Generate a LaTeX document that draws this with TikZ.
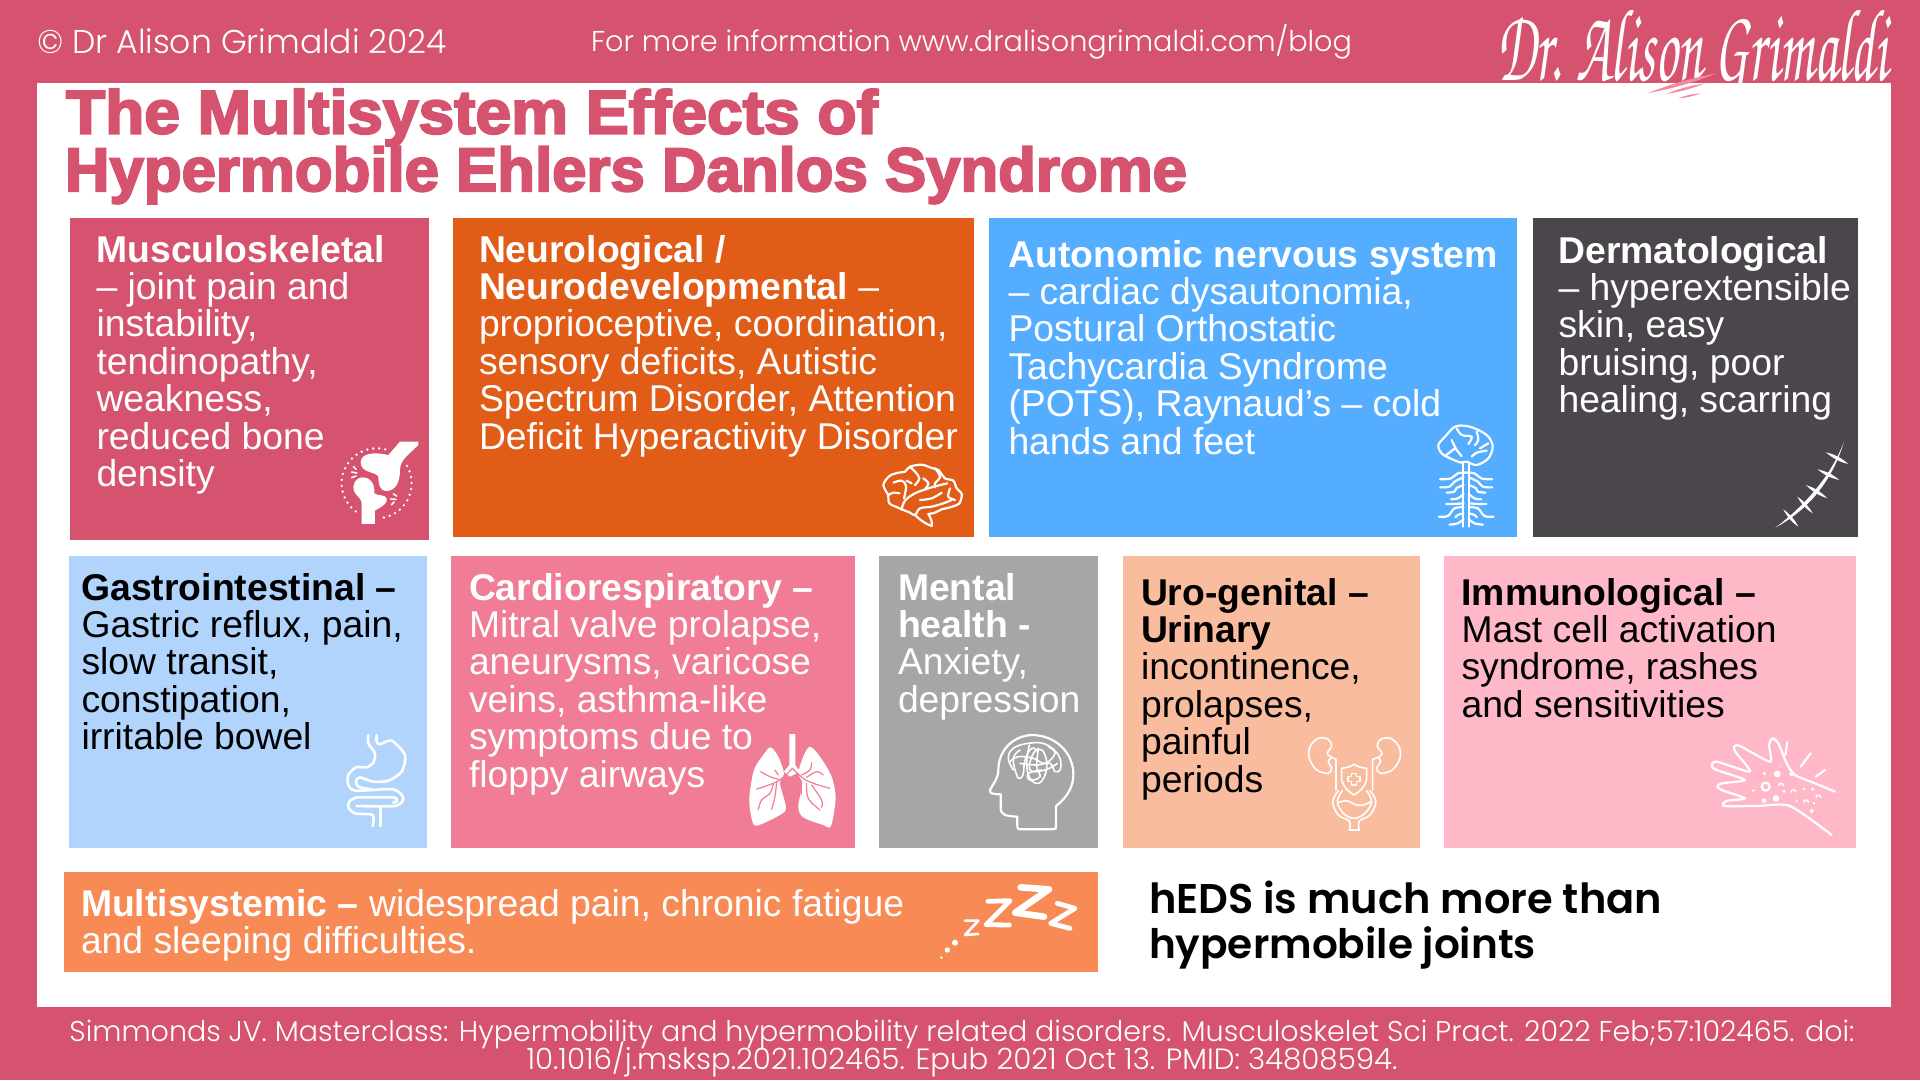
\documentclass[tikz,border=0pt]{standalone}
\usepackage{fontspec}
\usepackage{graphicx}
\setmainfont{Liberation Sans}
\newfontfamily\poplight{Poppins Light}
\newfontfamily\popreg{Poppins}
\newfontfamily\popsemi{Poppins SemiBold}
\newfontfamily\titlefont[FakeBold=3.4]{Liberation Sans Bold}
\newfontfamily\sigfont{TeX Gyre Chorus}
\definecolor{hdr}{HTML}{D6536F}
\definecolor{cneuro}{HTML}{E15C17}
\definecolor{cans}{HTML}{54ADFF}
\definecolor{cderm}{HTML}{4A464C}
\definecolor{cgi}{HTML}{B1D4FD}
\definecolor{ccardio}{HTML}{F07C95}
\definecolor{cmental}{HTML}{A6A6A6}
\definecolor{curo}{HTML}{F9BC9F}
\definecolor{cimm}{HTML}{FEB8C8}
\definecolor{cmulti}{HTML}{F88B55}
\definecolor{signpink}{HTML}{F08A9C}
\newcommand{\fl}{\rule{0pt}{30pt}}
\newcommand{\fitw}[2]{\resizebox{#1pt}{!}{#2}}
\tikzset{
  bx/.style={rectangle,fill=#1,draw=none,inner sep=0,outer sep=0},
  txt/.style={anchor=north west,inner sep=0pt,outer sep=0pt,align=left,font=\fontsize{37.3}{37.4}\selectfont},
  ic/.style={draw=white,line width=2.2pt,line cap=round,line join=round},
  icfine/.style={draw=white,line width=1.6pt,line cap=round,line join=round},
  dots/.style={draw=white,line width=2.6pt,line cap=round,dash pattern=on 0pt off 6pt},
  one/.style={inner sep=0pt,outer sep=0pt,text=white},
}
\newcommand{\boxat}[6]{\node[bx=#6,anchor=north west,minimum width=#4pt-#2pt,minimum height=#5pt-#3pt] (#1) at (#2,#3) {};}
\begin{document}
\begin{tikzpicture}[x=1pt,y=-1pt]
\useasboundingbox (0,0) rectangle (1920,1080);
\fill[hdr] (0,0) rectangle (1920,1080);
\boxat{panel}{37}{83}{1891}{1007}{white}
% header
\node[one,anchor=base west] (hleft) at (37,53.5) {\fitw{410}{\poplight\fontsize{32}{36}\selectfont © Dr Alison Grimaldi 2024}};
\node[one,anchor=base west] (hmid) at (591,51.5) {\fitw{761}{\poplight\fontsize{28}{32}\selectfont For more information www.dralisongrimaldi.com/blog}};
% signature
\node[one,anchor=north west] (sig) at (1497,10) {\resizebox{391pt}{70pt}{\sigfont Dr. Alison Grimaldi}};
\begin{scope}[shift={(1440,0)},x=.3333pt,y=-.3333pt]
\fill[signpink] (622,280) to[bend left=5] (830,220) to[bend left=5] (622,280);
\fill[signpink] (678,282) to[bend left=6] (795,250) to[bend left=6] (678,282);
\fill[signpink] (715,295) to[bend left=8] (782,280) to[bend left=8] (715,295);
\end{scope}
% title
\node[anchor=base west,inner sep=0,outer sep=0,text=hdr] (title1) at (66,133.5) {\resizebox{812pt}{44.5pt}{\titlefont\fontsize{56}{60}\selectfont The Multisystem Effects of}};
\node[anchor=base west,inner sep=0,outer sep=0,text=hdr] (title2) at (65,191) {\resizebox{1122pt}{44.5pt}{\titlefont\fontsize{56}{60}\selectfont Hypermobile Ehlers Danlos Syndrome}};
% boxes
\boxat{musc}{70}{217.5}{429}{540}{hdr}
\boxat{neuro}{453}{217.5}{974}{536.5}{cneuro}
\boxat{ans}{989}{217.5}{1517}{536.5}{cans}
\boxat{derm}{1533}{217.5}{1858}{536.5}{cderm}
\boxat{gi}{69}{555.5}{427}{847.5}{cgi}
\boxat{cardio}{451}{555.5}{855}{847.5}{ccardio}
\boxat{mental}{879}{555.5}{1098}{847.5}{cmental}
\boxat{uro}{1123}{555.5}{1420}{847.5}{curo}
\boxat{immun}{1444}{555.5}{1856}{847.5}{cimm}
\boxat{multi}{64}{872}{1098}{972}{cmulti}
% texts
\node[txt,text=white] (tmusc) at (96.5,232) {\fl\textbf{Musculoskeletal}\\– joint pain and\\instability,\\tendinopathy,\\weakness,\\reduced bone\\density};
\node[txt,text=white] (tneuro) at (479,232) {\fl\textbf{Neurological /}\\\textbf{Neurodevelopmental} –\\proprioceptive, coordination,\\sensory deficits, Autistic\\Spectrum Disorder, Attention\\Deficit Hyperactivity Disorder};
\node[txt,text=white] (tans) at (1008.5,237) {\fl\textbf{Autonomic nervous system}\\– cardiac dysautonomia,\\Postural Orthostatic\\Tachycardia Syndrome\\(POTS), Raynaud’s – cold\\hands and feet};
\node[txt,text=white] (tderm) at (1558.5,233) {\fl\textbf{Dermatological}\\– hyperextensible\\skin, easy\\bruising, poor\\healing, scarring};
\node[txt,text=black] (tgi) at (81.5,570) {\fl\textbf{Gastrointestinal –}\\Gastric reflux, pain,\\slow transit,\\constipation,\\irritable bowel};
\node[txt,text=white] (tcardio) at (469,570) {\fl\textbf{Cardiorespiratory –}\\Mitral valve prolapse,\\aneurysms, varicose\\veins, asthma-like\\symptoms due to\\floppy airways};
\node[txt,text=white] (tmental) at (898,570) {\fl\textbf{Mental}\\\textbf{health -}\\Anxiety,\\depression};
\node[txt,text=black] (turo) at (1141,575) {\fl\textbf{Uro-genital –}\\\textbf{Urinary}\\incontinence,\\prolapses,\\painful\\periods};
\node[txt,text=black] (timm) at (1461.5,575) {\fl\textbf{Immunological –}\\Mast cell activation\\syndrome, rashes\\and sensitivities};
\node[txt,text=white] (tmulti) at (81,886) {\fl\textbf{Multisystemic –} widespread pain, chronic fatigue\\and sleeping difficulties.};
% side message
\node[anchor=base west,inner sep=0,outer sep=0] (heds1) at (1149,913) {\fitw{513}{\popsemi\fontsize{38}{42}\selectfont hEDS is much more than}};
\node[anchor=base west,inner sep=0,outer sep=0] (heds2) at (1149,958) {\fitw{387}{\popsemi\fontsize{38}{42}\selectfont hypermobile joints}};
% footer
\node[one,anchor=base] (foot1) at (962,1041) {\fitw{1785}{\poplight\fontsize{27}{30}\selectfont Simmonds JV. Masterclass: Hypermobility and hypermobility related disorders. Musculoskelet Sci Pract. 2022 Feb;57:102465. doi:}};
\node[one,anchor=base] (foot2) at (962,1069) {\fitw{871}{\poplight\fontsize{27}{30}\selectfont 10.1016/j.msksp.2021.102465. Epub 2021 Oct 13. PMID: 34808594.}};
% joint icon
\begin{scope}[shift={(320,420)},x=.3333pt,y=-.3333pt]
\fill[white] (240,65) -- (295,65) -- (295,75) .. controls (265,105) and (240,120) .. (240,150) .. controls (240,190) and (225,212) .. (200,213) .. controls (178,213) and (175,190) .. (175,170) .. controls (170,155) and (120,160) .. (122,125) .. controls (125,100) and (160,95) .. (205,105) -- cycle;
\fill[white] (125,312) -- (165,312) -- (165,272) .. controls (185,260) and (205,250) .. (200,235) .. controls (195,222) and (170,228) .. (163,220) .. controls (165,190) and (150,172) .. (130,172) .. controls (105,172) and (95,195) .. (103,215) .. controls (110,230) and (125,235) .. (125,250) -- cycle;
\draw[dots] plot[domain=-76:-235,samples=50] ({170+105*cos(\x)},{190+105*sin(\x)});
\draw[dots] plot[domain=-30:84,samples=40] ({170+105*cos(\x)},{190+105*sin(\x)});
\foreach \a/\b/\c/\d in {100/140/108/148,95/156/110/159,95/173/108/168,220/222/230/228,212/237/228/238,215/254/222/246}
  \draw[white,line width=1.6pt,line cap=round] (\a,\b) -- (\c,\d);
\end{scope}
% brain icon
\begin{scope}[shift={(860,450)},x=.3333pt,y=-.3333pt]
\draw[ic] plot[smooth,tension=.5] coordinates {(85,135) (70,105) (88,78) (115,68) (135,65) (150,50) (185,44) (215,54) (235,60) (255,85) (280,92) (290,115) (305,132) (298,160) (270,172) (245,178) (225,188) (205,192)};
\draw[ic] plot[smooth,tension=.5] coordinates {(85,135) (88,160) (112,172) (125,178)};
\draw[ic] (205,192) .. controls (212,205) and (218,215) .. (215,228) .. controls (195,222) and (175,205) .. (165,195);
\draw[ic] plot[smooth,tension=.6] coordinates {(125,178) (135,152) (165,130) (215,112) (262,100)};
\draw[ic] plot[smooth,tension=.6] coordinates {(125,178) (150,188) (165,195) (180,175) (215,170) (250,160) (275,150)};
\draw[ic] plot[smooth,tension=.6] coordinates {(100,98) (125,92) (138,108) (132,145)};
\draw[ic] plot[smooth,tension=.6] coordinates {(85,135) (100,128) (118,130)};
\draw[ic] plot[smooth,tension=.6] coordinates {(150,50) (165,65) (178,85) (165,105)};
\draw[ic] plot[smooth,tension=.6] coordinates {(140,92) (155,100)};
\draw[ic] plot[smooth,tension=.6] coordinates {(190,85) (205,100) (195,118)};
\draw[ic] plot[smooth,tension=.6] coordinates {(225,55) (240,80) (225,100) (225,112)};
\draw[ic] plot[smooth,tension=.6] coordinates {(180,150) (215,145) (245,128)};
\draw[ic] plot[smooth,tension=.6] coordinates {(270,115) (265,140) (285,150)};
\end{scope}
% brain + spine icon
\begin{scope}[shift={(1420,420)},x=.3333pt,y=-.3333pt]
\draw[ic] plot[smooth,tension=.55] coordinates {(122,128) (90,115) (65,100) (55,75) (75,50) (105,20) (140,18) (175,30) (205,50) (218,80) (205,115) (170,135) (140,125) (122,128)};
\draw[ic] plot[smooth,tension=.6] coordinates {(95,60) (110,90) (125,108)};
\draw[ic] plot[smooth,tension=.6] coordinates {(75,108) (105,85)};
\draw[ic] plot[smooth,tension=.6] coordinates {(110,25) (125,45) (155,50) (145,72)};
\draw[ic] plot[smooth,tension=.6] coordinates {(170,35) (175,60) (165,75)};
\draw[ic] plot[smooth,tension=.6] coordinates {(180,85) (205,70)};
\draw[ic] plot[smooth,tension=.6] coordinates {(155,110) (170,98) (200,92)};
\draw[ic] (130,130) -- (130,320) (147,130) -- (147,320);
\foreach \s/\e in {1/1,-1/1}{
\begin{scope}[xshift=138.5*.3333pt,xscale=\s]
\draw[ic] plot[smooth,tension=.6] coordinates {(8,158) (-25,160) (-45,175) (-78,178)};
\draw[ic] plot[smooth,tension=.6] coordinates {(-8,172) (-35,185) (-50,200) (-78,202)};
\draw[ic] plot[smooth,tension=.6] coordinates {(-8,195) (-30,205) (-35,215) (-58,218)};
\draw[ic] plot[smooth,tension=.6] coordinates {(-8,222) (-25,235) (-45,238)};
\draw[ic] plot[smooth,tension=.6] coordinates {(-8,250) (-35,252) (-60,252)};
\draw[ic] plot[smooth,tension=.6] coordinates {(-8,262) (-35,265) (-55,288) (-82,290)};
\draw[ic] plot[smooth,tension=.6] coordinates {(-8,280) (-25,285) (-32,292)};
\draw[ic] plot[smooth,tension=.6] coordinates {(-8,298) (-25,310) (-50,314)};
\end{scope}}
\end{scope}
% stitches icon
\begin{scope}[shift={(1420,420)},x=.3333pt,y=-.3333pt,fill=white]
\fill (1066,323) .. controls (1145,280) and (1230,205) .. (1272,65) .. controls (1230,178) and (1140,268) .. (1066,323);
\foreach \a/\b/\c/\d in {1090/268/1135/320,1132/230/1178/280,1158/195/1222/235,1193/148/1258/180,1218/97/1285/132}
  \fill (\a,\b) to[bend left=13] (\c,\d) to[bend left=13] (\a,\b);
\end{scope}
% stomach icon
\begin{scope}[shift={(330,720)},x=.3333pt,y=-.3333pt]
\draw[ic,line width=2.6pt] plot[smooth,tension=.45] coordinates {(115,45) (115,70) (135,100) (130,128) (110,142) (78,142) (55,165) (55,195) (78,212) (190,208) (220,235) (195,258) (80,258)};
\draw[ic,line width=2.6pt] plot[smooth,tension=.45] coordinates {(140,45) (140,65) (150,73) (185,62) (225,105) (215,155) (175,182) (130,185) (90,172) (78,182) (85,200) (125,208)};
\draw[ic,line width=2.6pt] plot[smooth,tension=.45] coordinates {(80,232) (60,242) (55,262) (75,280) (128,285) (128,318)};
\draw[ic,line width=2.6pt] (80,232) -- (190,232) .. controls (205,232) and (205,248) .. (190,248);
\draw[ic,line width=2.6pt] (152,262) -- (152,318);
\end{scope}
% lungs icon
\begin{scope}[shift={(330,720)},x=.3333pt,y=-.3333pt]
\fill[white] plot[smooth cycle,tension=.5] coordinates {(1322,82) (1345,110) (1362,160) (1350,190) (1368,262) (1350,285) (1280,317) (1265,295) (1258,235) (1272,150) (1300,105)};
\fill[white] plot[smooth cycle,tension=.5] coordinates {(1440,80) (1470,110) (1505,170) (1517,235) (1503,318) (1480,315) (1420,292) (1405,260) (1417,190) (1405,160) (1420,110)};
\fill[white] (1378,42) -- (1396,42) -- (1396,135) -- (1410,155) -- (1380,170) -- (1362,155) -- (1378,135) -- cycle;
\foreach \p in {
 {(1387,145) (1360,172) (1330,190) (1280,207)},
 {(1292,155) (1320,170) (1345,178)},
 {(1335,150) (1345,165)},
 {(1330,192) (1320,220) (1295,240) (1285,268)},
 {(1340,185) (1335,230) (1325,268)},
 {(1387,145) (1420,175) (1450,190) (1500,205)},
 {(1415,165) (1440,150) (1445,128)},
 {(1430,172) (1460,155) (1480,165)},
 {(1430,190) (1435,235) (1470,270)},
 {(1445,195) (1475,240) (1475,262)},
 {(1415,195) (1415,225)}}
  \draw[ccardio,line width=1.2pt,line cap=round] plot[smooth,tension=.6] coordinates \p;
\end{scope}
% head icon
\begin{scope}[shift={(970,720)},x=.3333pt,y=-.3333pt]
\draw[ic] (142,290) .. controls (142,330) and (140,328) .. (155,328) -- (250,328) .. controls (260,328) and (258,320) .. (258,310) -- (258,258) .. controls (300,225) and (312,190) .. (310,155) .. controls (305,90) and (250,45) .. (185,45) .. controls (125,48) and (85,95) .. (85,150) .. controls (85,175) and (70,190) .. (60,210) .. controls (58,222) and (70,222) .. (92,223) -- (92,262) .. controls (92,285) and (105,288) .. (142,290);
\foreach \p in {
 {(130,150) (115,115) (130,85) (175,70) (225,72) (265,105) (272,145) (255,155) (240,130) (200,135) (150,130)},
 {(150,90) (130,115) (140,165) (150,175) (160,160) (165,120) (185,85) (205,95)},
 {(178,75) (170,130) (180,175) (205,190) (225,165) (230,125) (215,90) (190,100) (180,150) (225,150) (262,130)},
 {(235,80) (255,100) (225,130) (190,115) (145,110) (120,125)},
 {(205,85) (200,140) (210,170) (180,180) (175,160) (215,150)}}
  \draw[icfine] plot[smooth,tension=.7] coordinates \p;
\end{scope}
% urinary icon
\begin{scope}[shift={(970,720)},x=.3333pt,y=-.3333pt]
\draw[icfine] plot[smooth,tension=.55] coordinates {(1085,112) (1072,100) (1085,78) (1075,58) (1045,55) (1020,80) (1018,115) (1040,150) (1075,160) (1085,145) (1075,125) (1085,112)};
\draw[icfine] plot[smooth,tension=.55] coordinates {(1225,112) (1236,100) (1222,78) (1232,58) (1262,55) (1287,80) (1290,115) (1267,150) (1232,160) (1220,145) (1232,125) (1225,112)};
\draw[icfine] (1085,112) -- (1098,118) -- (1098,210);
\draw[icfine] (1225,112) -- (1208,118) -- (1208,210);
\draw[icfine] (1115,145) .. controls (1130,143) and (1145,140) .. (1152,132) .. controls (1160,140) and (1175,143) .. (1190,145) -- (1190,180) .. controls (1185,200) and (1170,215) .. (1152,225) .. controls (1135,215) and (1120,200) .. (1115,180) -- cycle;
\draw[icfine] (1145,160) -- (1160,160) -- (1160,170) -- (1170,170) -- (1170,185) -- (1160,185) -- (1160,195) -- (1145,195) -- (1145,185) -- (1134,185) -- (1134,170) -- (1145,170) -- cycle;
\draw[icfine] plot[smooth,tension=.6] coordinates {(1105,212) (1088,245) (1105,285) (1138,303) (1138,330)};
\draw[icfine] (1138,330) -- (1168,330);
\draw[icfine] plot[smooth,tension=.6] coordinates {(1200,212) (1218,245) (1200,285) (1168,303) (1168,330)};
\draw[icfine] plot[smooth,tension=.6] coordinates {(1117,212) (1102,245) (1120,280) (1152,295) (1185,280) (1205,245) (1190,212)};
\draw[icfine] plot[smooth,tension=.7] coordinates {(1105,248) (1130,242) (1152,252) (1175,256) (1203,245)};
\end{scope}
% hand icon
\begin{scope}[shift={(1690,720)},x=.3333pt,y=-.3333pt]
\draw[ic] plot[smooth,tension=.4] coordinates {(435,215) (375,190) (315,165) (290,130) (265,70) (248,55) (237,75) (240,125) (150,78) (132,80) (138,98) (180,155) (80,125) (65,138) (80,150) (165,180) (95,190) (82,200) (100,212) (165,235) (108,243) (103,258) (200,258) (300,258) (425,345)};
\foreach \a/\b/\c/\d in {292/67/286/105,362/100/332/140,405/150/377/170}
  \draw[ic] (\a,\b) -- (\c,\d);
\foreach \cx/\cy/\r in {223/160/5,262/162/10,305/162/7,190/212/4,222/242/7,258/235/10,282/214/5,342/207/4,368/208/5,320/243/4,372/250/4,365/273/6,270/140/2,300/258/5}
  \fill[white] (\cx,\cy) circle[radius=\r];
\draw[ic] (227,200) circle[radius=12];
\foreach \cx/\cy in {273/193,310/212,348/243,385/228}
  \draw[white,line width=1.5pt,line cap=round] (\cx-7,\cy+4) arc[start angle=180,end angle=360,radius=7];
\end{scope}
% zzz icon
\begin{scope}[shift={(900,860)},x=.3333pt,y=-.3333pt]
\draw[white,line width=2.6pt,line cap=round,line join=round] (195,182) -- (235,182) -- (195,225) -- (235,222);
\draw[white,line width=4.8pt,line cap=round,line join=round] (264,124) -- (330,122) -- (258,194) -- (328,195);
\draw[white,line width=6.6pt,line cap=round,line join=round] (362,82) -- (447,88) -- (346,158) -- (432,170);
\draw[white,line width=4.8pt,line cap=round,line join=round] (472,130) -- (525,145) -- (452,190) -- (510,205);
\fill[white] (165,248) circle[radius=9];
\fill[white] (142,270) circle[radius=8];
\fill[white] (124,293) circle[radius=4];
\end{scope}
\end{tikzpicture}
\end{document}
